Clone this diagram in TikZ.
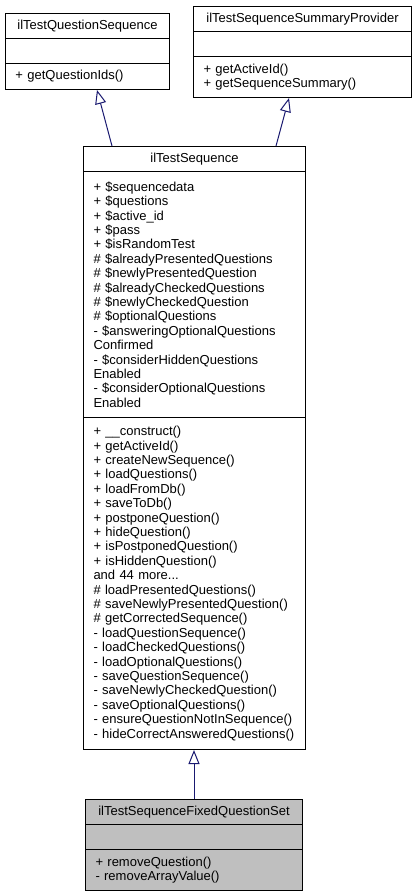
\documentclass[tikz,border=0pt]{standalone}
\usepackage{fontspec}
\setmainfont{Liberation Sans}
\usepackage{tikz}
\usetikzlibrary{arrows.meta,calc,positioning}
\definecolor{edgeblue}{RGB}{25,25,112}
\definecolor{classgrey}{RGB}{191,191,191}
\newcommand{\umlfont}{\fontsize{13pt}{14.4pt}\selectfont}
\tikzset{
  umlbox/.style={
    draw=black,
    line width=1pt,
    anchor=north west,
    fill=white,
    inner xsep=10pt,
    inner ysep=0pt,
    align=left,
    font=\umlfont
  },
  umltitle/.style={umlbox, align=center},
  greybox/.style={fill=classgrey},
  inherit/.style={-{Triangle[open, length=14pt, width=11pt]}, line width=1pt, draw=edgeblue}
}

\begin{document}
\begin{tikzpicture}[x=1pt,y=1pt]
  \useasboundingbox (0,0) rectangle (415,-896);

  % ilTestQuestionSequence
  \node[umltitle,text width=144pt,minimum height=25pt] (qseqname) at (5,-13) {ilTestQuestionSequence};
  \node[umlbox,minimum width=164pt,minimum height=25pt] (qseqattr) at (5,-38) {};
  \node[umlbox,text width=144pt,minimum height=26pt] (qseqops) at (5,-63) {+ getQuestionIds()};

  % ilTestSequenceSummaryProvider
  \node[umltitle,text width=198pt,minimum height=25pt] (sumname) at (193,-6) {ilTestSequenceSummaryProvider};
  \node[umlbox,minimum width=218pt,minimum height=25pt] (sumattr) at (193,-31) {};
  \node[umlbox,text width=198pt,minimum height=41pt] (sumops) at (193,-56) {+ getActiveId()\\+ getSequenceSummary()};

  % ilTestSequence
  \node[umltitle,text width=202pt,minimum height=25pt] (seqname) at (83,-146) {ilTestSequence};
  \node[umlbox,text width=202pt,minimum height=246pt] (seqattr) at (83,-171) {%
    + \$sequencedata\\
    + \$questions\\
    + \$active\_id\\
    + \$pass\\
    + \$isRandomTest\\
    \# \$alreadyPresentedQuestions\\
    \# \$newlyPresentedQuestion\\
    \# \$alreadyCheckedQuestions\\
    \# \$newlyCheckedQuestion\\
    \# \$optionalQuestions\\
    - \$answeringOptionalQuestions\\
    Confirmed\\
    - \$considerHiddenQuestions\\
    Enabled\\
    - \$considerOptionalQuestions\\
    Enabled};
  \node[umlbox,text width=202pt,minimum height=332pt] (seqops) at (83,-417) {%
    + \_\_construct()\\
    + getActiveId()\\
    + createNewSequence()\\
    + loadQuestions()\\
    + loadFromDb()\\
    + saveToDb()\\
    + postponeQuestion()\\
    + hideQuestion()\\
    + isPostponedQuestion()\\
    + isHiddenQuestion()\\
    and 44 more...\\
    \# loadPresentedQuestions()\\
    \# saveNewlyPresentedQuestion()\\
    \# getCorrectedSequence()\\
    - loadQuestionSequence()\\
    - loadCheckedQuestions()\\
    - loadOptionalQuestions()\\
    - saveQuestionSequence()\\
    - saveNewlyCheckedQuestion()\\
    - saveOptionalQuestions()\\
    - ensureQuestionNotInSequence()\\
    - hideCorrectAnsweredQuestions()};

  % ilTestSequenceFixedQuestionSet
  \node[umltitle,greybox,text width=197pt,minimum height=25pt] (fixname) at (85,-799) {ilTestSequenceFixedQuestionSet};
  \node[umlbox,greybox,minimum width=217pt,minimum height=25pt] (fixattr) at (85,-824) {};
  \node[umlbox,greybox,text width=197pt,minimum height=41pt] (fixops) at (85,-849) {+ removeQuestion()\\- removeArrayValue()};

  % Inheritance
  \draw[inherit] ($(seqname.north west)+(29,0)$) -- ($(qseqops.south west)+(92,0)$);
  \draw[inherit] ($(seqname.north west)+(193,0)$) -- ($(sumops.south west)+(96,0)$);
  \draw[inherit] (fixname.north) -- (fixname.north |- seqops.south);
\end{tikzpicture}
\end{document}
